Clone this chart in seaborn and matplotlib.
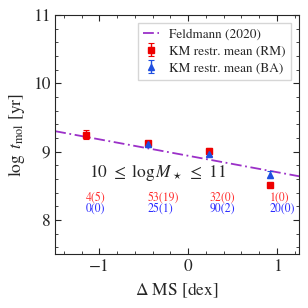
import matplotlib
matplotlib.use("Agg")
import matplotlib.pyplot as plt
import seaborn as sns
import numpy as np
import pandas as pd
from matplotlib.ticker import MultipleLocator

# Feldmann (2020) relation, read at the axis edges
feld_x = [-1.5, 1.25]
feld_y = [9.30, 8.64]

# KM restricted means
rm_x = [-1.15, -0.455, 0.24, 0.92]
rm_y = [9.25, 9.12, 9.01, 8.51]
rm_err = [0.06, 0.04, 0.04, 0.03]

ba_x = [-0.455, 0.24, 0.92]
ba_y = [9.11, 8.97, 8.66]
ba_err = [0.04, 0.03, 0.05]

# counts per bin
count_x = [-1.15, -0.455, 0.24, 0.92]
rm_counts = ["4(5)", "53(19)", "32(0)", "1(0)"]
ba_counts = ["0(0)", "25(1)", "90(2)", "20(0)"]

sns.set_style("ticks")
plt.rcParams["font.family"] = ["STIXGeneral", "DejaVu Serif"]
plt.rcParams["mathtext.fontset"] = "stix"

fig = plt.figure(figsize=(3.08, 3.08), dpi=100)
ax = fig.add_axes([0.179, 0.175, 0.792, 0.776])

feld = pd.DataFrame({"x": feld_x, "y": feld_y})
sns.lineplot(data=feld, x="x", y="y", ax=ax, color="#9b30c8", lw=1.3,
             linestyle=(0, (6, 2, 1, 2)), label="Feldmann (2020)")

ax.errorbar(rm_x, rm_y, yerr=rm_err, fmt="s", color="#ee0000", ms=5,
            capsize=2, elinewidth=1, capthick=0.8, label="KM restr. mean (RM)")
ax.errorbar(ba_x, ba_y, yerr=ba_err, fmt="^", color="#1f4fe0", ms=5,
            capsize=2, elinewidth=1, capthick=0.8, label="KM restr. mean (BA)")

for x, r, b in zip(count_x, rm_counts, ba_counts):
    ax.text(x, 8.33, r, color="#ff3030", fontsize=8.5, ha="left", va="center")
    ax.text(x, 8.17, b, color="#2a2aff", fontsize=8.5, ha="left", va="center")

ax.text(-0.34, 8.70, r"$10\ \leq\ \log M_\star\ \leq\ 11$", fontsize=12.5,
        ha="center", va="center")

ax.set_xlim(-1.5, 1.25)
ax.set_ylim(7.5, 11)
ax.set_xticks([-1, 0, 1])
ax.set_xticklabels(["\u22121", "0", "1"])
ax.set_yticks([8, 9, 10, 11])
ax.xaxis.set_minor_locator(MultipleLocator(0.2))
ax.yaxis.set_minor_locator(MultipleLocator(0.2))
ax.tick_params(which="both", direction="in", top=True, right=True)
ax.tick_params(which="major", length=4, labelsize=12.5)
ax.tick_params(which="minor", length=2)

ax.set_xlabel(r"$\Delta$ MS [dex]", fontsize=12.5)
ax.set_ylabel(r"$\log\ t_{\rm mol}$ [yr]", fontsize=12.5)

leg = ax.legend(loc="upper right", fontsize=9.5, frameon=True, fancybox=False,
                edgecolor="#cccccc", handlelength=1.2, borderpad=0.4,
                labelspacing=0.35, borderaxespad=0.6)

fig.savefig("out.png", dpi=100)
